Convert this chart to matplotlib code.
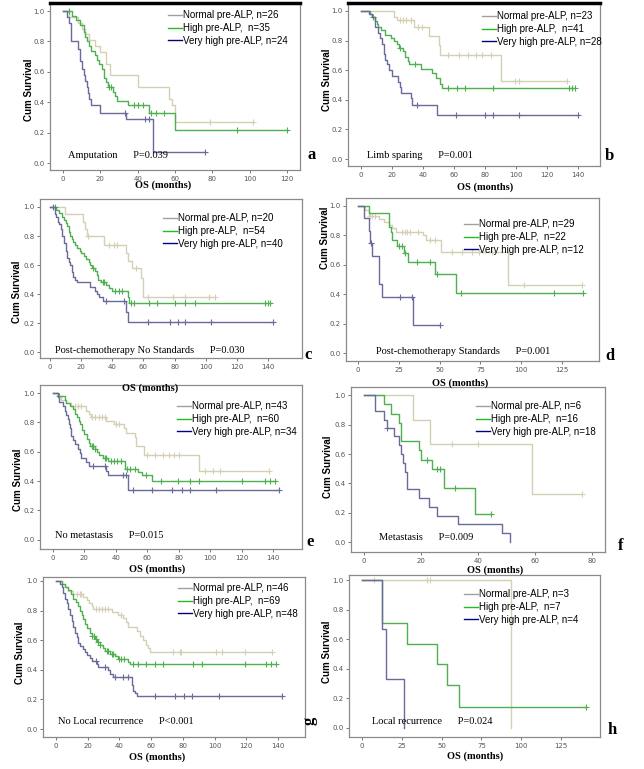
import matplotlib
matplotlib.use('Agg')
import matplotlib.pyplot as plt
from matplotlib.lines import Line2D

W, H = 644, 769

# ---- a: Amputation ----
a_norm_t = [3, 8, 10, 12, 14, 17, 20, 23, 25, 40, 57, 58.5, 60]
a_norm_s = [0.96, 0.92, 0.88, 0.85, 0.81, 0.77, 0.73, 0.65, 0.58, 0.50, 0.42, 0.38, 0.27]
a_norm_c = [79, 102]
a_high_t = [5, 7, 9, 11, 12, 13, 14, 15, 17, 18, 19, 21, 22, 23, 24, 27, 28, 29, 35, 46, 60]
a_high_s = [0.97, 0.94, 0.91, 0.86, 0.83, 0.80, 0.77, 0.74, 0.71, 0.68, 0.65, 0.62, 0.56, 0.53, 0.50,
            0.47, 0.44, 0.41, 0.38, 0.33, 0.22]
a_high_c = [3, 24.5, 25.5, 38, 40, 43, 47, 50, 54, 93, 120]
a_vhigh_t = [2, 3, 4, 8, 9, 10, 11, 12, 13, 13.5, 14, 15, 20, 34, 48]
a_vhigh_s = [0.96, 0.92, 0.80, 0.75, 0.67, 0.62, 0.58, 0.54, 0.50, 0.46, 0.42, 0.38, 0.33, 0.29, 0.07]
a_vhigh_c = [33, 44, 46, 76]

# ---- b: Limb sparing ----
b_norm_t = [21, 23, 34, 43.5, 50, 51, 90]
b_norm_s = [0.96, 0.94, 0.89, 0.83, 0.77, 0.70, 0.53]
b_norm_c = [25, 27, 29, 32, 37, 39, 56, 63, 69, 74, 78, 84, 99, 102, 133]
b_high_t = [6, 7, 9, 10, 11, 13, 15.5, 19, 21, 23, 24.5, 27, 28.5, 30, 31, 38.5, 45.5, 48, 51, 52]
b_high_s = [0.98, 0.96, 0.93, 0.91, 0.89, 0.87, 0.84, 0.82, 0.80, 0.78, 0.75, 0.73, 0.69, 0.66,
            0.64, 0.61, 0.58, 0.545, 0.51, 0.48]
b_high_c = [7.5, 25, 35, 56, 62, 67, 85, 134, 136, 138]
b_vhigh_t = [5, 7, 9, 11, 12, 13.5, 14.5, 15.5, 16.5, 18, 20, 24, 25, 26, 32, 33, 49]
b_vhigh_s = [0.98, 0.96, 0.89, 0.85, 0.82, 0.78, 0.71, 0.67, 0.64, 0.60, 0.56, 0.52, 0.485, 0.445,
             0.41, 0.365, 0.30]
b_vhigh_c = [36, 61, 80, 85, 102, 140]

# ---- c: Post-chemotherapy No Standards ----
c_norm_t = [9.6, 21, 22.5, 24, 35, 48.5, 50, 52.5, 58.5, 60]
c_norm_s = [0.95, 0.90, 0.85, 0.80, 0.74, 0.68, 0.63, 0.58, 0.51, 0.38]
c_norm_c = [24.5, 38, 41, 43, 55.5, 63, 79, 87, 102, 106]
c_high_t = [4, 6, 8, 9, 10, 11, 12, 13, 14, 15, 16, 17.5, 19, 20, 22, 23, 25, 26, 27, 29, 30, 31,
            33, 36, 38, 40, 50, 51]
c_high_s = [0.98, 0.96, 0.93, 0.91, 0.89, 0.87, 0.83, 0.80, 0.78, 0.76, 0.74, 0.72, 0.70, 0.68,
            0.66, 0.64, 0.62, 0.60, 0.58, 0.56, 0.53, 0.50, 0.48, 0.46, 0.44, 0.42, 0.38, 0.34]
c_high_c = [3, 27.5, 34, 35, 42, 44, 46, 52, 54, 63.5, 69, 80.5, 87, 93, 138, 140, 141.5]
c_vhigh_t = [3, 4, 5, 6, 7, 8, 9, 10, 11, 12, 13, 14, 15, 16, 17.5, 25.5, 29, 30, 31.5, 34, 48.5, 50]
c_vhigh_s = [0.95, 0.93, 0.90, 0.88, 0.85, 0.80, 0.75, 0.70, 0.65, 0.62, 0.60, 0.55, 0.52, 0.50,
             0.48, 0.45, 0.42, 0.40, 0.38, 0.35, 0.28, 0.21]
c_vhigh_c = [2, 36, 47.5, 63, 77, 82, 86.5, 103.5, 143]

# ---- d: Post-chemotherapy Standards ----
d_norm_t = [4.5, 6.5, 12.7, 15.7, 19, 21, 23, 40, 41.7, 51, 92]
d_norm_s = [0.97, 0.93, 0.91, 0.89, 0.87, 0.85, 0.825, 0.80, 0.77, 0.69, 0.46]
d_norm_c = [7.5, 8.5, 10.5, 27, 28.5, 30, 32, 36.5, 44, 47, 57.5, 63.5, 70, 74, 82, 101.5, 137]
d_high_t = [6.5, 19, 20, 21, 24, 28, 30.5, 47, 60]
d_high_s = [0.955, 0.86, 0.82, 0.77, 0.73, 0.68, 0.62, 0.54, 0.41]
d_high_c = [25, 27, 28.5, 36, 44.3, 48.4, 63, 120, 138]
d_vhigh_t = [3.5, 6.5, 7.5, 8.6, 12.7, 13, 14.7, 33.5]
d_vhigh_s = [0.92, 0.83, 0.75, 0.66, 0.56, 0.47, 0.38, 0.19]
d_vhigh_c = [8, 26, 33, 50.4]

# ---- e: No metastasis ----
e_norm_t = [3, 5, 8.5, 11.7, 21, 23, 24.4, 34, 39, 45, 46.7, 52, 53, 57.7, 58, 92.7]
e_norm_s = [0.98, 0.95, 0.93, 0.91, 0.88, 0.86, 0.84, 0.81, 0.79, 0.76, 0.73, 0.70, 0.64, 0.61,
            0.58, 0.47]
e_norm_c = [14, 16, 18, 25, 27, 29, 31, 33, 40, 42, 60, 65, 70, 74, 77, 80, 97, 102, 106, 137.5]
e_high_t = [3, 7.4, 8.5, 10.6, 12.7, 13.8, 15.3, 16.5, 17.4, 18.7, 20, 21.6, 23, 23.8, 26.5, 28,
            29.3, 31.8, 35, 45.6, 54, 56.8, 63.2]
e_high_s = [0.98, 0.95, 0.93, 0.91, 0.89, 0.86, 0.84, 0.81, 0.79, 0.75, 0.72, 0.69, 0.66, 0.64,
            0.62, 0.60, 0.58, 0.56, 0.535, 0.48, 0.46, 0.44, 0.40]
e_high_c = [4, 24.5, 25.5, 27, 33, 34, 37, 39, 41, 43, 47, 49, 52, 59, 69, 79.5, 87, 93, 120, 135,
            138, 141]
e_vhigh_t = [3, 4, 6.4, 7.4, 8.5, 9.5, 10.2, 11, 11.7, 12.7, 13.8, 15.9, 17, 18, 20.8, 23, 34, 35, 47.7]
e_vhigh_s = [0.97, 0.94, 0.91, 0.88, 0.85, 0.82, 0.79, 0.76, 0.71, 0.68, 0.65, 0.62, 0.59, 0.56,
             0.53, 0.50, 0.47, 0.44, 0.34]
e_vhigh_c = [25.5, 33, 44.5, 46.5, 51, 63, 76, 82, 87, 104, 144]

# ---- f: Metastasis ----
f_norm_t = [17, 23, 59]
f_norm_s = [0.83, 0.67, 0.33]
f_norm_c = [31, 40, 76.5]
f_high_t = [7, 9.3, 12.3, 12.8, 19.3, 20, 24, 28, 39]
f_high_s = [0.94, 0.875, 0.81, 0.69, 0.625, 0.56, 0.50, 0.37, 0.19]
f_high_c = [22, 25.7, 26.5, 32, 44.4]
f_vhigh_t = [4, 7, 8.2, 10.5, 12.3, 13, 13.7, 14.4, 15.2, 19.3, 22.8, 25.7, 33, 48.5, 51.4]
f_vhigh_s = [0.89, 0.83, 0.78, 0.72, 0.66, 0.60, 0.54, 0.48, 0.36, 0.30, 0.24, 0.18, 0.12, 0.06, 0.0]
f_vhigh_c = [8.2]

# ---- g: No Local recurrence ----
g_norm_t = [3.6, 5.7, 7.8, 10.9, 17.2, 19.7, 21, 22.5, 23.5, 35, 39, 42.4, 44, 45.5, 50.8, 53, 55,
            57, 58, 59]
g_norm_s = [0.98, 0.96, 0.93, 0.91, 0.89, 0.87, 0.85, 0.83, 0.81, 0.79, 0.77, 0.75, 0.72, 0.69,
            0.66, 0.63, 0.60, 0.57, 0.55, 0.52]
g_norm_c = [13, 15, 16, 25, 27, 29, 31, 33, 41, 74, 78, 79, 101, 104.5, 119, 136]
g_high_t = [3.6, 5.7, 7.8, 9.2, 10.9, 12.6, 14, 15, 16.2, 17.2, 18.3, 19.7, 21.4, 22.5, 24.6, 26,
            27.7, 29.4, 30.9, 34, 37, 39.3, 45.5, 46.6]
g_high_s = [0.98, 0.96, 0.94, 0.91, 0.88, 0.86, 0.83, 0.80, 0.77, 0.74, 0.71, 0.68, 0.65, 0.63,
            0.61, 0.59, 0.57, 0.55, 0.53, 0.51, 0.49, 0.47, 0.45, 0.44]
g_high_c = [23, 24, 25.5, 26.5, 28, 32, 33, 35, 36, 40, 41, 43, 48.7, 51.8, 57, 62.3, 67.6, 86.5,
            91.8, 119, 132.7, 135.8, 139]
g_vhigh_t = [2.5, 3.6, 4.6, 5.7, 6.7, 7.8, 8.8, 9.9, 10.9, 12, 13, 14, 15, 17.2, 18.3, 19.7, 21.4,
             22.5, 25.6, 26.7, 33, 34, 36, 48, 48.7, 49.8, 50.8]
g_vhigh_s = [0.98, 0.96, 0.92, 0.88, 0.85, 0.81, 0.77, 0.73, 0.69, 0.65, 0.62, 0.58, 0.56, 0.54,
             0.52, 0.50, 0.48, 0.46, 0.44, 0.42, 0.40, 0.37, 0.35, 0.30, 0.26, 0.24, 0.22]
g_vhigh_c = [25, 31, 37, 42.4, 45.5, 62.3, 75, 81, 86, 103, 142.7]

# ---- h: Local recurrence ----
h_norm_t = [93.4]
h_norm_s = [0.0]
h_norm_c = [7.3, 40.8, 42.9]
h_high_t = [12.5, 28.2, 47, 53.3, 60.6]
h_high_s = [0.71, 0.57, 0.43, 0.29, 0.14]
h_high_c = [141]
h_vhigh_t = [12.5, 15, 26.1]
h_vhigh_s = [0.67, 0.33, 0.0]
h_vhigh_c = []

groups = ['Normal pre-ALP', 'High pre-ALP', 'Very high pre-ALP']
sizes = {'a': [26, 35, 24], 'b': [23, 41, 28], 'c': [20, 54, 40], 'd': [29, 22, 12],
         'e': [43, 60, 34], 'f': [6, 16, 18], 'g': [46, 69, 48], 'h': [3, 7, 4]}
notes = {'a': 'Amputation      P=0.039', 'b': 'Limb sparing      P=0.001',
         'c': 'Post-chemotherapy No Standards      P=0.030',
         'd': 'Post-chemotherapy Standards      P=0.001',
         'e': 'No metastasis      P=0.015', 'f': 'Metastasis      P=0.009',
         'g': 'No Local recurrence      P<0.001', 'h': 'Local recurrence      P=0.024'}

line_colors = ['#d4d0b4', '#4fb04f', '#6a6a9c']
legend_colors = ['#a0a0a0', '#22bb22', '#000080']

curves = {
    'a': [(a_norm_t, a_norm_s, a_norm_c), (a_high_t, a_high_s, a_high_c), (a_vhigh_t, a_vhigh_s, a_vhigh_c)],
    'b': [(b_norm_t, b_norm_s, b_norm_c), (b_high_t, b_high_s, b_high_c), (b_vhigh_t, b_vhigh_s, b_vhigh_c)],
    'c': [(c_norm_t, c_norm_s, c_norm_c), (c_high_t, c_high_s, c_high_c), (c_vhigh_t, c_vhigh_s, c_vhigh_c)],
    'd': [(d_norm_t, d_norm_s, d_norm_c), (d_high_t, d_high_s, d_high_c), (d_vhigh_t, d_vhigh_s, d_vhigh_c)],
    'e': [(e_norm_t, e_norm_s, e_norm_c), (e_high_t, e_high_s, e_high_c), (e_vhigh_t, e_vhigh_s, e_vhigh_c)],
    'f': [(f_norm_t, f_norm_s, f_norm_c), (f_high_t, f_high_s, f_high_c), (f_vhigh_t, f_vhigh_s, f_vhigh_c)],
    'g': [(g_norm_t, g_norm_s, g_norm_c), (g_high_t, g_high_s, g_high_c), (g_vhigh_t, g_vhigh_s, g_vhigh_c)],
    'h': [(h_norm_t, h_norm_s, h_norm_c), (h_high_t, h_high_s, h_high_c), (h_vhigh_t, h_vhigh_s, h_vhigh_c)],
}

# layout in pixels: box (l, t, r, b), xlim, ylim, xtick step/max, legend, note, letter, xlabel, ylabel
layout = {
    'a': ((50, 3, 300, 170), (-7, 127), (-0.046, 1.053), (20, 120), (168, 10), (68, 155), (312, 155), (163, 185), (29, 90)),
    'b': ((348, 3, 600, 166), (-8.4, 154), (-0.047, 1.054), (20, 140), (482, 11), (367, 156), (609, 156), (485, 187), (327, 80)),
    'c': ((40, 199, 302, 358), (-6.4, 161.8), (-0.04, 1.055), (20, 140), (163, 213), (55, 350), (308, 355), (150, 388), (17, 292)),
    'd': ((346, 198, 599, 361), (-7.4, 147.7), (-0.054, 1.054), (25, 125), (464, 219), (376, 352), (610, 356), (460, 383), (325, 238)),
    'e': ((40, 385, 302, 549), (-8.3, 158.5), (-0.063, 1.055), (20, 140), (177, 401), (55, 535), (310, 542), (157, 569), (18, 480)),
    'f': ((351, 387, 605, 552), (-4.6, 84.6), (-0.068, 1.057), (20, 80), (476, 401), (379, 537), (621, 546), (495, 570), (328, 467)),
    'g': ((43, 577, 305, 737), (-8.2, 157), (-0.054, 1.027), (20, 140), (178, 583), (58, 721), (310, 721), (157, 757), (20, 653)),
    'h': ((349, 575, 600, 737), (-8.2, 149.5), (-0.061, 1.034), (25, 125), (464, 589), (372, 722), (612, 730), (475, 756), (327, 652)),
}


def fx(x):
    return x / W


def fy(y):
    return 1 - y / H


def surv_at(times, surv, t):
    s = 1.0
    for ti, si in zip(times, surv):
        if ti <= t:
            s = si
    return s


def km(ax, times, surv, cens, color):
    end = max([times[-1]] + list(cens))
    xs = [0] + list(times) + [end]
    ys = [1.0] + list(surv) + [surv[-1]]
    ax.step(xs, ys, where='post', color=color, lw=1.0)
    if cens:
        ax.plot(cens, [surv_at(times, surv, c) for c in cens], '+', color=color, ms=4, mew=0.8)


fig = plt.figure(figsize=(W / 100, H / 100), dpi=100)
fig.patch.set_facecolor('white')
sans = ['Liberation Sans Narrow', 'Liberation Sans', 'DejaVu Sans']
serif = ['Liberation Serif', 'DejaVu Serif']

for key in 'abcdefgh':
    box, xlim, ylim, (xstep, xmax), leg, note, letter, xlab, ylab = layout[key]
    l, t, r, b = box
    ax = fig.add_axes([fx(l), fy(b), (r - l) / W, (b - t) / H])
    for (tt, ss, cc), col in zip(curves[key], line_colors):
        km(ax, tt, ss, cc, col)
    ax.set_xlim(*xlim)
    ax.set_ylim(*ylim)
    ax.set_xticks(list(range(0, xmax + 1, xstep)))
    ax.set_yticks([0.0, 0.2, 0.4, 0.6, 0.8, 1.0])
    ax.set_yticklabels(['0.0', '0.2', '0.4', '0.6', '0.8', '1.0'])
    ax.tick_params(labelsize=5, length=2.5, width=0.7, colors='#777777', labelcolor='#555555', pad=1.5)
    for sp in ax.spines.values():
        sp.set_color('#8a8a8a')
        sp.set_linewidth(0.9)
    if key in 'ab':
        ax.spines['top'].set_color('black')
        ax.spines['top'].set_linewidth(2.5)

    handles = [Line2D([], [], color=c, lw=1.0) for c in legend_colors]
    n1, n2, n3 = sizes[key]
    labels = [f'{groups[0]}, n={n1}', f'{groups[1]},  n={n2}', f'{groups[2]}, n={n3}']
    ax.legend(handles, labels, loc='upper left', bbox_to_anchor=(fx(leg[0]), fy(leg[1])),
              bbox_transform=fig.transFigure, frameon=False, handlelength=1.4, handletextpad=0.1,
              labelspacing=0.3, borderpad=0, borderaxespad=0, prop={'family': sans, 'size': 7})

    fig.text(fx(note[0]), fy(note[1]), notes[key], family=serif, fontsize=7.5, ha='left', va='center')
    fig.text(fx(letter[0]), fy(letter[1]), key, family=serif, fontsize=12, fontweight='bold',
             ha='center', va='center', rotation=90 if key == 'g' else 0)
    fig.text(fx(xlab[0]), fy(xlab[1]), 'OS (months)', family=serif, fontsize=7.5, fontweight='bold',
             ha='center', va='center')
    fig.text(fx(ylab[0]), fy(ylab[1]), 'Cum Survival', family=sans, fontsize=7, fontweight='bold',
             ha='center', va='center', rotation=90)

fig.savefig('out.png', dpi=100, facecolor='white')
